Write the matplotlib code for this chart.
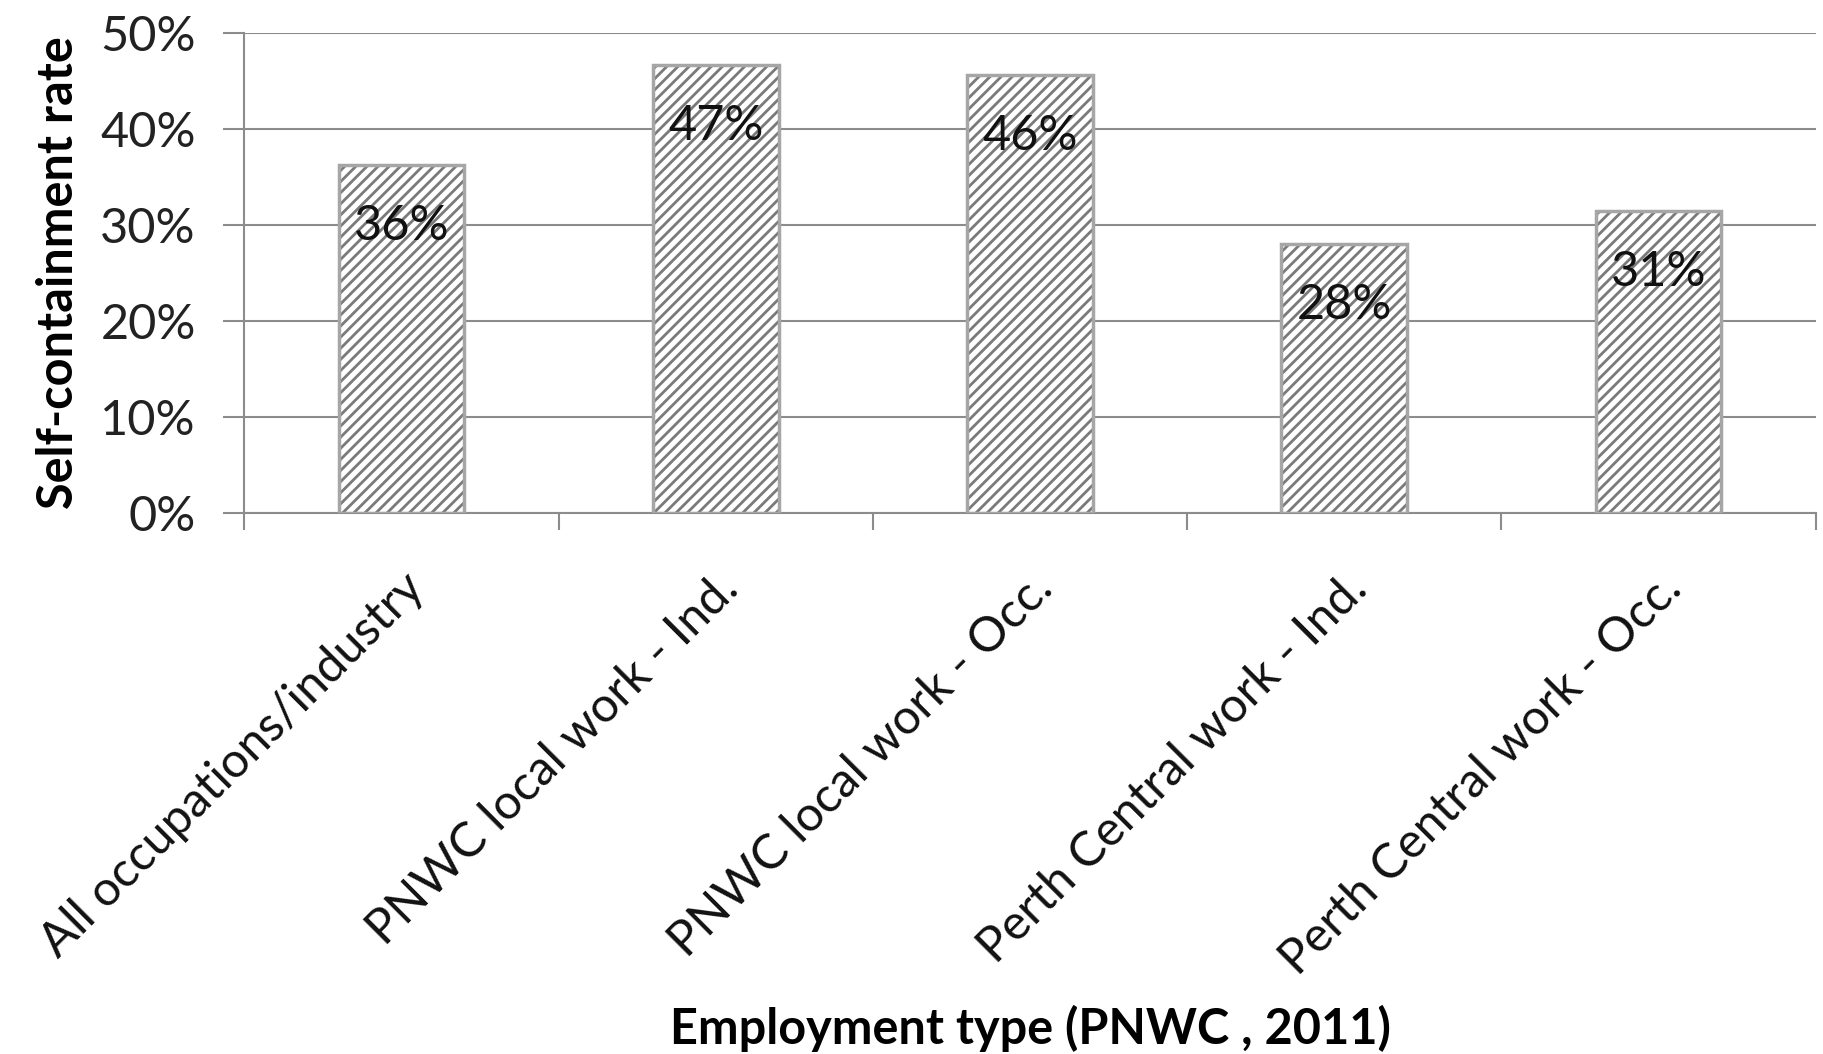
# self-containment rate by employment type
import matplotlib.pyplot as plt
from matplotlib.ticker import FuncFormatter

plt.rcParams['font.family'] = ['Lato', 'DejaVu Sans']
plt.rcParams['hatch.linewidth'] = 2.0

categories = ["All occupations/industry", "PNWC local work - Ind.", "PNWC local work - Occ.",
              "Perth Central work - Ind.", "Perth Central work - Occ."]
rates = [36.2, 46.6, 45.6, 28.0, 31.4]
y_ticks = [0, 10, 20, 30, 40, 50]

fig = plt.figure(figsize=(18.23, 10.54), dpi=100)
ax = fig.add_axes([0.134, 0.5136, 0.862, 0.4555])

x = range(len(categories))
# hatched fill, then the light grey outline on top
ax.bar(x, rates, width=0.4, color="white", edgecolor="#7a7a7a", hatch="///", linewidth=0, zorder=2)
ax.bar(x, rates, width=0.4, fill=False, edgecolor="#a6a6a6", linewidth=2.5, zorder=3)

for i, v in enumerate(rates):
    ax.annotate("%.0f%%" % v, xy=(i, v), xytext=(0, -28), textcoords="offset points",
                ha="center", va="top", fontsize=35, color="#111111", zorder=4)

ax.set_ylim(0, 50)
ax.set_xlim(-0.5, len(categories) - 0.5)
ax.set_yticks(y_ticks)
ax.yaxis.set_major_formatter(FuncFormatter(lambda v, p: "%d%%" % v))
ax.yaxis.grid(True, color="#8c8c8c", linewidth=1.5, zorder=0)

ax.set_xticks(list(x))
ax.set_xticklabels(categories, rotation=45, ha="right", rotation_mode="anchor")
ax.set_xticks([i - 0.5 for i in range(len(categories) + 1)], minor=True)
ax.tick_params(axis="x", which="major", length=0, pad=38, labelsize=35, labelcolor="#111111")
ax.tick_params(axis="x", which="minor", length=12, width=1.5, color="#8c8c8c")
ax.tick_params(axis="y", length=15, width=1.5, color="#8c8c8c", pad=20, labelsize=35, labelcolor="#222222")

for s in ["top", "right"]:
    ax.spines[s].set_visible(False)
for s in ["left", "bottom"]:
    ax.spines[s].set_color("#8c8c8c")
    ax.spines[s].set_linewidth(1.5)

ax.set_ylabel("Self-containment rate", fontsize=35, fontweight="bold", labelpad=14)
ax.set_xlabel("Employment type (PNWC , 2011)", fontsize=35, fontweight="bold", labelpad=16)

plt.savefig("out.png", dpi=100)
